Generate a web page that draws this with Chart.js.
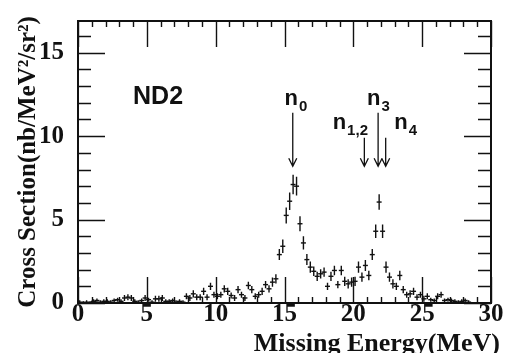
<!DOCTYPE html>
<html>
<head>
<meta charset="utf-8">
<script src="https://cdn.jsdelivr.net/npm/chart.js@4.4.1/dist/chart.umd.min.js"></script>
<style>
    html, body { margin: 0; padding: 0; background: #fff; }
    #wrap { width: 507px; height: 353px; }
</style>
</head>
<body>
<div id="wrap"><canvas id="xsChart" width="507" height="353"></canvas></div>
<script>
// Missing energy spectrum, 0.25 MeV bins
const energies = [
    0.125, 0.375, 0.625, 0.875, 1.125, 1.375, 1.625, 1.875, 2.125, 2.375,
    2.625, 2.875, 3.125, 3.375, 3.625, 3.875, 4.125, 4.375, 4.625, 4.875,
    5.125, 5.375, 5.625, 5.875, 6.125, 6.375, 6.625, 6.875, 7.125, 7.375,
    7.625, 7.875, 8.125, 8.375, 8.625, 8.875, 9.125, 9.375, 9.625, 9.875,
    10.125, 10.375, 10.625, 10.875, 11.125, 11.375, 11.625, 11.875, 12.125, 12.375,
    12.625, 12.875, 13.125, 13.375, 13.625, 13.875, 14.125, 14.375, 14.625, 14.875,
    15.125, 15.375, 15.625, 15.875, 16.125, 16.375, 16.625, 16.875, 17.125, 17.375,
    17.625, 17.875, 18.125, 18.375, 18.625, 18.875, 19.125, 19.375, 19.625, 19.875,
    20.125, 20.375, 20.625, 20.875, 21.125, 21.375, 21.625, 21.875, 22.125, 22.375,
    22.625, 22.875, 23.125, 23.375, 23.625, 23.875, 24.125, 24.375, 24.625, 24.875,
    25.125, 25.375, 25.625, 25.875, 26.125, 26.375, 26.625, 26.875, 27.125, 27.375,
    27.625, 27.875, 28.125, 28.375
];
const crossSection = [
    0.05, 0.0, 0.05, 0.0, 0.1, 0.15, 0.05, 0.1, 0.1, 0.05,
    0.15, 0.2, 0.1, 0.3, 0.35, 0.3, 0.1, 0.05, 0.15, 0.3,
    0.2, 0.05, 0.25, 0.25, 0.3, 0.1, 0.1, 0.15, 0.05, 0.1,
    0.05, 0.4, 0.3, 0.55, 0.35, 0.35, 0.7, 0.35, 1.0, 0.5,
    0.4, 0.5, 0.85, 0.7, 0.45, 0.3, 0.8, 0.5, 0.3, 1.05,
    0.8, 0.4, 0.5, 0.7, 1.1, 0.85, 1.25, 1.45, 2.9, 3.4,
    5.25, 6.1, 7.1, 7.0, 4.75, 3.6, 2.6, 2.15, 1.9, 1.6,
    1.75, 1.85, 1.0, 1.6, 1.95, 1.1, 1.95, 1.3, 1.15, 1.25,
    1.3, 2.15, 1.55, 2.25, 1.65, 2.9, 4.3, 6.05, 4.3, 2.15,
    1.55, 1.15, 1.0, 1.65, 0.8, 0.5, 0.55, 0.7, 0.35, 0.5,
    0.25, 0.4, 0.2, 0.15, 0.4, 0.5, 0.15, 0.2, 0.15, 0.1,
    0.05, 0.1, 0.15, 0.05
];
const errors = [
    0.12, 0.12, 0.12, 0.12, 0.12, 0.12, 0.12, 0.12, 0.12, 0.12,
    0.12, 0.12, 0.12, 0.18, 0.18, 0.18, 0.12, 0.12, 0.12, 0.18,
    0.12, 0.12, 0.18, 0.18, 0.18, 0.12, 0.12, 0.12, 0.12, 0.12,
    0.12, 0.18, 0.18, 0.22, 0.18, 0.18, 0.22, 0.18, 0.22, 0.18,
    0.18, 0.18, 0.22, 0.22, 0.18, 0.18, 0.22, 0.18, 0.18, 0.22,
    0.22, 0.18, 0.18, 0.22, 0.22, 0.22, 0.28, 0.28, 0.33, 0.4,
    0.48, 0.52, 0.58, 0.56, 0.45, 0.4, 0.33, 0.33, 0.28, 0.28,
    0.28, 0.28, 0.22, 0.28, 0.28, 0.22, 0.28, 0.28, 0.28, 0.28,
    0.28, 0.33, 0.28, 0.33, 0.28, 0.33, 0.4, 0.46, 0.4, 0.33,
    0.28, 0.28, 0.22, 0.28, 0.22, 0.18, 0.22, 0.22, 0.18, 0.18,
    0.18, 0.18, 0.12, 0.12, 0.18, 0.18, 0.12, 0.12, 0.12, 0.12,
    0.12, 0.12, 0.12, 0.12
];

const xTicks = [0, 5, 10, 15, 20, 25, 30];
const yTicks = [0, 5, 10, 15];

// peak markers: arrow energy, arrow top, label text
const arrowEnergies = [15.6, 20.8, 21.8, 22.35];
const arrowTops = [11.4, 9.9, 11.4, 9.9];
const arrowTip = 8.2;
const peakSubs = ["0", "1,2", "3", "4"];
const peakLabelE = [15.0, 18.5, 21.0, 22.97];
const peakLabelV = [11.86, 10.4, 11.86, 10.4];

const INK = "#111";
const SERIF = '"Liberation Serif", "Times New Roman", serif';
const SANS = '"Liberation Sans", Arial, sans-serif';

// frame with inward ticks on all four sides
const framePlugin = {
    id: "frame",
    afterDatasetsDraw(chart) {
        const ctx = chart.ctx;
        const a = chart.chartArea;
        const xs = chart.scales.x, ys = chart.scales.y;
        ctx.save();
        ctx.strokeStyle = INK;
        ctx.lineWidth = 1.4;
        ctx.beginPath();
        for (let e = xs.min; e <= xs.max; e++) {
            const px = Math.round(xs.getPixelForValue(e)) + 0.5;
            const len = e % 5 === 0 ? 26 : 6;
            ctx.moveTo(px, a.bottom); ctx.lineTo(px, a.bottom - len);
            ctx.moveTo(px, a.top); ctx.lineTo(px, a.top + len);
        }
        for (let v = 0; v <= ys.max; v++) {
            const py = Math.round(ys.getPixelForValue(v)) + 0.5;
            const len = v % 5 === 0 ? 27 : 13;
            ctx.moveTo(a.left, py); ctx.lineTo(a.left + len, py);
            ctx.moveTo(a.right, py); ctx.lineTo(a.right - len, py);
        }
        ctx.stroke();
        ctx.lineWidth = 2;
        ctx.strokeRect(a.left, a.top, a.right - a.left, a.bottom - a.top);

        // vertical error bars
        ctx.lineWidth = 1.4;
        ctx.beginPath();
        energies.forEach((e, i) => {
            const px = xs.getPixelForValue(e);
            const y1 = Math.min(ys.getPixelForValue(crossSection[i] - errors[i]), a.bottom);
            const y2 = ys.getPixelForValue(crossSection[i] + errors[i]);
            ctx.moveTo(px, y1); ctx.lineTo(px, y2);
        });
        ctx.stroke();

        // arrows
        const tipY = ys.getPixelForValue(arrowTip);
        ctx.lineWidth = 1.3;
        ctx.beginPath();
        arrowEnergies.forEach((e, i) => {
            const px = xs.getPixelForValue(e);
            ctx.moveTo(px, ys.getPixelForValue(arrowTops[i]));
            ctx.lineTo(px, tipY);
            ctx.moveTo(px - 4, tipY - 8); ctx.lineTo(px, tipY); ctx.lineTo(px + 4, tipY - 8);
        });
        ctx.stroke();

        // peak labels
        ctx.fillStyle = INK;
        ctx.textBaseline = "alphabetic";
        ctx.textAlign = "left";
        peakSubs.forEach((s, i) => {
            const px = xs.getPixelForValue(peakLabelE[i]);
            const py = ys.getPixelForValue(peakLabelV[i]);
            ctx.font = "bold 22px " + SANS;
            ctx.fillText("n", px, py);
            const w = ctx.measureText("n").width;
            ctx.font = "bold 15px " + SANS;
            ctx.fillText(s, px + w + 1, py + 6);
        });
        ctx.font = "bold 25px " + SANS;
        ctx.fillText("ND2", xs.getPixelForValue(4.0), ys.getPixelForValue(11.9));

        // x axis title, right aligned past the frame
        ctx.font = "bold 26px " + SERIF;
        ctx.textAlign = "right";
        ctx.fillText("Missing Energy(MeV)", 500, 351);
        ctx.restore();
    }
};

const ctx = document.getElementById("xsChart").getContext("2d");
new Chart(ctx, {
    type: "scatter",
    data: {
        datasets: [{
            data: energies.map((e, i) => ({ x: e, y: crossSection[i] })),
            pointStyle: "line",
            pointRadius: 2.5,
            borderColor: INK,
            borderWidth: 1.4,
            showLine: false
        }]
    },
    options: {
        responsive: false,
        animation: false,
        devicePixelRatio: 1,
        layout: { padding: { left: 0, top: 14, right: 16, bottom: 0 } },
        plugins: { legend: { display: false }, tooltip: { enabled: false } },
        scales: {
            x: {
                type: "linear",
                min: 0,
                max: 30,
                grid: { display: false },
                border: { display: false },
                afterBuildTicks: s => { s.ticks = xTicks.map(v => ({ value: v })); },
                afterFit: s => { s.height = 50; },
                ticks: {
                    color: INK,
                    padding: -11,
                    maxRotation: 0,
                    font: { family: SERIF, weight: "bold", size: 25 }
                }
            },
            y: {
                min: 0,
                max: 16.9,
                grid: { display: false },
                border: { display: false },
                afterBuildTicks: s => { s.ticks = yTicks.map(v => ({ value: v })); },
                afterFit: s => { s.width = 78; },
                ticks: {
                    color: INK,
                    padding: 6,
                    font: { family: SERIF, weight: "bold", size: 25 }
                },
                title: {
                    display: true,
                    text: "Cross Section(nb/MeV²/sr²)",
                    color: INK,
                    padding: { top: 14, bottom: 0 },
                    font: { family: SERIF, weight: "bold", size: 25, lineHeight: 1.2 }
                }
            }
        }
    },
    plugins: [framePlugin]
});
</script>
</body>
</html>
